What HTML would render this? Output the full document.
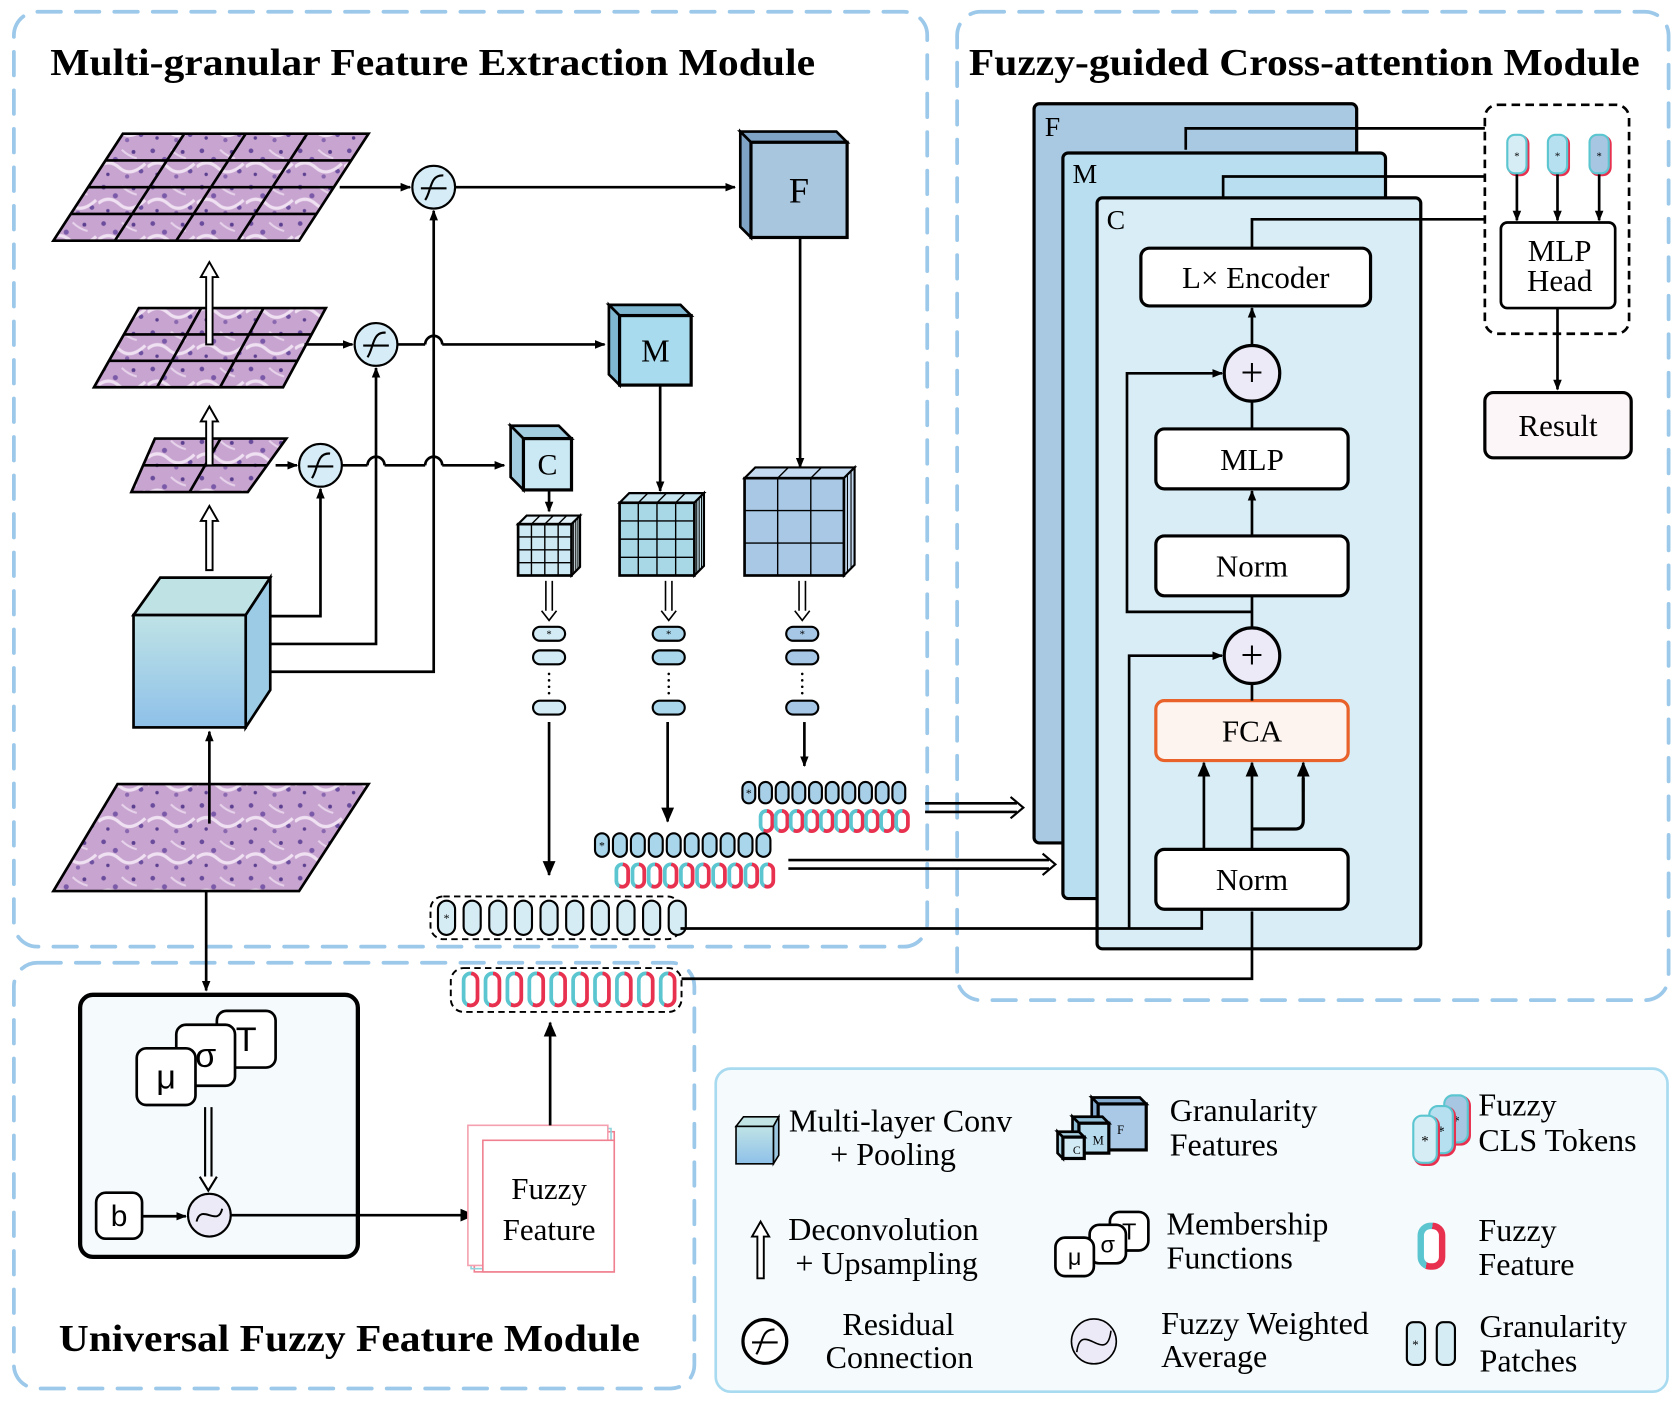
<!DOCTYPE html>
<html><head><meta charset="utf-8"><style>
html,body{margin:0;padding:0;background:#fff;}
svg{display:block;}
text{font-family:"Liberation Serif",serif;}
</style></head><body>
<svg id="s" width="1675" height="1412" viewBox="0 0 1568 1320" preserveAspectRatio="none" xmlns="http://www.w3.org/2000/svg">
<defs>
<marker id="ar" markerWidth="10" markerHeight="10" refX="9" refY="5" orient="auto" markerUnits="userSpaceOnUse"><path d="M0,1 L10,5 L0,9 z" fill="#000"/></marker>
<marker id="arb" markerWidth="14" markerHeight="14" refX="13" refY="7" orient="auto" markerUnits="userSpaceOnUse"><path d="M0,1 L14,7 L0,13 z" fill="#000"/></marker>
<linearGradient id="cg" x1="0" y1="0" x2="0" y2="1"><stop offset="0" stop-color="#bfe3e6"/><stop offset="1" stop-color="#8ec0e8"/></linearGradient>
<linearGradient id="fz" x1="0" y1="0" x2="1" y2="0.3"><stop offset="0" stop-color="#5cc6d0"/><stop offset="0.5" stop-color="#5cc6d0"/><stop offset="0.5" stop-color="#e8304f"/><stop offset="1" stop-color="#e8304f"/></linearGradient>
<pattern id="tis" width="46" height="34" patternUnits="userSpaceOnUse"><rect width="46" height="34" fill="#c8a4d0"/><circle cx="5" cy="5" r="2.2" fill="#6a4c9c"/><circle cx="16" cy="13" r="2.4" fill="#7a5aa8"/><circle cx="33" cy="6" r="1.8" fill="#5c4090"/><circle cx="40" cy="24" r="2.2" fill="#6d50a0"/><circle cx="9" cy="27" r="1.6" fill="#5c4090"/><circle cx="27" cy="29" r="2" fill="#8a68b0"/><path d="M0,20 Q10,12 20,21 T44,17" stroke="#efe0f2" stroke-width="3" fill="none"/><path d="M22,4 Q28,10 36,12" stroke="#e6d2ea" stroke-width="2" fill="none"/></pattern>
</defs>
<g fill="none" stroke="#9cc8ea" stroke-width="3.5" stroke-dasharray="22 14" stroke-linecap="round">
<rect x="13" y="11" width="855" height="874" rx="22"/>
<rect x="896" y="11" width="666" height="924" rx="22"/>
<rect x="13" y="900" width="637" height="398" rx="22"/>
</g>
<rect x="670" y="999" width="891" height="302" rx="14" fill="#f5fafd" stroke="#a8daf0" stroke-width="2.5"/>
<g font-weight="bold" font-size="36" fill="#000">
<text x="47" y="70" textLength="716" lengthAdjust="spacingAndGlyphs">Multi-granular Feature Extraction Module</text>
<text x="907" y="70" textLength="628" lengthAdjust="spacingAndGlyphs">Fuzzy-guided Cross-attention Module</text>
<text x="55" y="1263" textLength="544" lengthAdjust="spacingAndGlyphs">Universal Fuzzy Feature Module</text>
</g>
</svg>
<script>
const NS="http://www.w3.org/2000/svg",S=document.getElementById('s');
function el(t,a,txt){const e=document.createElementNS(NS,t);for(const k in a)e.setAttribute(k,a[k]);if(txt!=null)e.textContent=txt;S.appendChild(e);return e;}
function line(pts,arr,w){const o={points:pts,fill:'none',stroke:'#000','stroke-width':w||2.5};if(arr)o['marker-end']='url(#'+arr+')';el('polyline',o);}
function txt(x,y,s,fs,anc,extra){const o={x:x,y:y,'font-size':fs,'text-anchor':anc||'start',fill:'#000'};Object.assign(o,extra||{});return el('text',o,s);}
function tissue(p,n){el('polygon',{points:p.map(a=>a.join(',')).join(' '),fill:'url(#tis)',stroke:'#000','stroke-width':2.5});
 if(n>1){for(let i=1;i<n;i++){const t=i/n;
  let a=[p[0][0]+(p[1][0]-p[0][0])*t,p[0][1]],b=[p[3][0]+(p[2][0]-p[3][0])*t,p[3][1]];line(a+' '+b,null,2.5);
  let c=[p[0][0]+(p[3][0]-p[0][0])*t,p[0][1]+(p[3][1]-p[0][1])*t],d=[p[1][0]+(p[2][0]-p[1][0])*t,p[1][1]+(p[2][1]-p[1][1])*t];line(c+' '+d,null,2.5);}}}
tissue([[115,125],[345,125],[280,225],[50,225]],4);
tissue([[130,288],[305,288],[265,362],[88,362]],3);
tissue([[145,410],[268,410],[232,460],[123,460]],2);
tissue([[110,733],[345,733],[280,833],[50,833]],1);
function hup(x,y1,y2){el('path',{d:`M${x-3},${y1} L${x-3},${y2+14} L${x-8},${y2+14} L${x},${y2} L${x+8},${y2+14} L${x+3},${y2+14} L${x+3},${y1} Z`,fill:'#fff',stroke:'#000','stroke-width':1.8});}
hup(196,322,245);hup(196,435,380);hup(196,533,473);
line('193,833 193,926','ar');
line('196,770 196,684','ar');
line('318,175 384,175','ar');line('426,175 688,175','ar');
line('285,322 330,322','ar');line('372,322 398,322');el('path',{d:'M398,322 A8,8 0 0 1 414,322',fill:'none',stroke:'#000','stroke-width':2.5});line('414,322 566,322','ar');
line('258,435 278,435','ar');line('320,435 344,435');el('path',{d:'M344,435 A8,8 0 0 1 360,435',fill:'none',stroke:'#000','stroke-width':2.5});line('360,435 398,435');el('path',{d:'M398,435 A8,8 0 0 1 414,435',fill:'none',stroke:'#000','stroke-width':2.5});line('414,435 472,435','ar');
line('240,576 300,576 300,457','ar');line('240,602 352,602 352,344','ar');line('240,628 406,628 406,197','ar');
function res(cx,cy,fill){el('circle',{cx:cx,cy:cy,r:20,fill:fill||'#d6ecf6',stroke:'#000','stroke-width':2});el('path',{d:`M${cx-12},${cy+1} L${cx+12},${cy+1} M${cx-8},${cy+12} C${cx-2},${cy+4} ${cx-4},${cy-12} ${cx+9},${cy-11}`,fill:'none',stroke:'#000','stroke-width':2});}
res(406,175);res(352,322);res(300,435);
el('polygon',{points:'125,575 150,540 253,540 230,575',fill:'#bfe3e4',stroke:'#000','stroke-width':2.5});
el('polygon',{points:'230,575 253,540 253,645 230,680',fill:'#9ccbe6',stroke:'#000','stroke-width':2.5});
el('rect',{x:125,y:575,width:105,height:105,fill:'url(#cg)',stroke:'#000','stroke-width':2.5});
function cube(x,y,w,h,d,fill,dark,lab,fs){el('polygon',{points:`${x},${y} ${x-d},${y-d} ${x+w-d},${y-d} ${x+w},${y}`,fill:dark,stroke:'#000','stroke-width':2.5});
el('polygon',{points:`${x},${y} ${x-d},${y-d} ${x-d},${y+h-d} ${x},${y+h}`,fill:dark,stroke:'#000','stroke-width':2.5});
el('rect',{x:x,y:y,width:w,height:h,fill:fill,stroke:'#000','stroke-width':3});if(lab)txt(x+w/2,y+h/2+fs*0.35,lab,fs,'middle');}
cube(703,133,90,89,10,'#a9c6df','#7fa3c4','F',34);
cube(580,295,67,65,10,'#a8dbee','#7fb7d0','M',30);
cube(490,410,45,48,12,'#cbe9f4','#a2cde0','C',28);
function gcube(x,y,w,h,d,n,fill,top){el('polygon',{points:`${x},${y} ${x+d},${y-d} ${x+w+d},${y-d} ${x+w},${y}`,fill:top,stroke:'#000','stroke-width':2});
el('polygon',{points:`${x+w},${y} ${x+w+d},${y-d} ${x+w+d},${y+h-d} ${x+w},${y+h}`,fill:top,stroke:'#000','stroke-width':2});
el('rect',{x:x,y:y,width:w,height:h,fill:fill,stroke:'#000','stroke-width':2.5});
for(let i=1;i<n;i++){line(`${x+w*i/n},${y} ${x+w*i/n},${y+h}`,null,1.3);line(`${x},${y+h*i/n} ${x+w},${y+h*i/n}`,null,1.3);line(`${x+w*i/n},${y} ${x+w*i/n+d},${y-d}`,null,1.3);line(`${x+w+d*i/n},${y-d*i/n} ${x+w+d*i/n},${y+h-d*i/n}`,null,1);}}
gcube(697,447,93,91,10,3,'#a9c8e6','#c4daf0');
gcube(580,470,70,68,9,4,'#a8d8e6','#c8e6f0');
gcube(485,490,50,48,8,4,'#cde9f3','#e2f2f8');
line('749,222 749,437','ar');line('618,360 618,459','ar');line('514,458 514,478','ar');
function ddown(x,y1,y2){line(`${x-3},${y1} ${x-3},${y2-8}`,null,1.5);line(`${x+3},${y1} ${x+3},${y2-8}`,null,1.5);el('path',{d:`M${x-7},${y2-9} L${x},${y2} L${x+7},${y2-9}`,fill:'#fff',stroke:'#000','stroke-width':1.5});}
ddown(514,543,580);ddown(626,543,580);ddown(751,543,580);
function tokcol(x,fill){el('rect',{x:x-15,y:586,width:30,height:13,rx:6.5,fill:fill,stroke:'#000','stroke-width':2});txt(x,596,'*',10,'middle');
el('rect',{x:x-15,y:608,width:30,height:13,rx:6.5,fill:fill,stroke:'#000','stroke-width':2});
for(let k=0;k<4;k++)el('circle',{cx:x,cy:630+k*6,r:1.2,fill:'#000'});
el('rect',{x:x-15,y:655,width:30,height:13,rx:6.5,fill:fill,stroke:'#000','stroke-width':2});}
tokcol(514,'#d3ebf5');tokcol(626,'#a9d6ea');tokcol(751,'#a6c7e6');
line('514,675 514,818','arb');line('625,675 625,768','arb');line('753,675 753,716','ar');
function pills(x0,y,n,w,h,step,fill,star){for(let i=0;i<n;i++){const x=x0+i*step;el('rect',{x:x,y:y,width:w,height:h,rx:w/2,fill:fill,stroke:'#000','stroke-width':2});if(i==0&&star)txt(x+w/2,y+h/2+4,'*',11,'middle');}}
function fpills(x0,y,n,w,h,step){for(let i=0;i<n;i++){const x=x0+i*step;el('rect',{x:x,y:y,width:w,height:h,rx:w/2,fill:'#fff',stroke:'url(#fz)','stroke-width':3.5});}}
pills(695,731,10,12,20,15.6,'#a8cfe8',true);fpills(712,758,10,11,19,14.1);
pills(557,779,10,13,22,16.8,'#a9d6ea',true);fpills(577,808,10,11,21,15.1);
el('rect',{x:403,y:838,width:234,height:40,rx:12,fill:'none',stroke:'#000','stroke-width':1.8,'stroke-dasharray':'6 4'});
pills(410,842,10,16,32,24,'#d6ecf5',true);
el('rect',{x:422,y:905,width:216,height:41,rx:12,fill:'none',stroke:'#000','stroke-width':1.8,'stroke-dasharray':'6 4'});
fpills(434,910,10,13,30,20.5);
function dright(x1,x2,y){line(`${x1},${y-4} ${x2-6},${y-4}`,null,2.5);line(`${x1},${y+4} ${x2-6},${y+4}`,null,2.5);el('path',{d:`M${x2-12},${y-10} L${x2},${y} L${x2-12},${y+10}`,fill:'none',stroke:'#000','stroke-width':2});}
dright(866,958,755);dright(738,988,808);
el('rect',{x:968,y:97,width:302,height:691,rx:5,fill:'#a9c9e3',stroke:'#000','stroke-width':3});txt(978,127,'F',26);
el('rect',{x:995,y:143,width:302,height:697,rx:5,fill:'#b8def0',stroke:'#000','stroke-width':3});txt(1004,171,'M',26);
el('rect',{x:1027,y:185,width:303,height:702,rx:5,fill:'#d8edf5',stroke:'#000','stroke-width':3});txt(1036,214,'C',26);
line('637,868 1125,868 1125,850');line('638,915 1172,915 1172,852');
line('1110,140 1110,120 1390,120');line('1145,185 1145,165 1390,165');line('1172,232 1172,205 1390,205');
function box(x,y,w,h,s,fs,fill,stroke){el('rect',{x:x,y:y,width:w,height:h,rx:8,fill:fill||'#fff',stroke:stroke||'#000','stroke-width':3});txt(x+w/2,y+h/2+fs*0.35,s,fs,'middle');}
box(1068,232,215,54,'L×  Encoder',29);
box(1082,401,180,56,'MLP',29);box(1082,501,180,56,'Norm',29);
box(1082,655,180,56,'FCA',29,'#fdf4ef','#e8622a');box(1082,794,180,56,'Norm',29);
line('1127,794 1127,713','arb');line('1172,794 1172,713','arb');
el('path',{d:'M1172,775 L1212,775 Q1220,775 1220,767 L1220,727',fill:'none',stroke:'#000','stroke-width':3});line('1220,740 1220,713','arb');
line('1172,655 1172,640');line('1172,587 1172,557');line('1172,501 1172,459','ar');line('1172,401 1172,376');line('1172,323 1172,288','ar');
line('1057,868 1057,613 1144,613','ar');line('1172,572 1055,572 1055,349 1144,349','ar');
function plus(cx,cy){el('circle',{cx:cx,cy:cy,r:26,fill:'#eceaf6',stroke:'#000','stroke-width':3});txt(cx,cy+12,'+',38,'middle');}
plus(1172,349);plus(1172,613);
el('rect',{x:1390,y:98,width:135,height:214,rx:12,fill:'none',stroke:'#000','stroke-width':2.5,'stroke-dasharray':'8 5'});
[[1420,'#d6edf5'],[1458,'#b6dff0'],[1497,'#a6c6e2']].forEach(([x,f])=>{el('rect',{x:x-9+1.5,y:126+1.5,width:18,height:36,rx:7,fill:'none',stroke:'#e8304f','stroke-width':2.5});el('rect',{x:x-9,y:126,width:18,height:36,rx:7,fill:f,stroke:'#5cc6d0','stroke-width':2});txt(x,149,'*',10,'middle');line(`${x},163 ${x},206`,'ar');});
el('rect',{x:1405,y:208,width:107,height:80,rx:6,fill:'#fff',stroke:'#000','stroke-width':2.5});
txt(1460,244,'MLP',29,'middle');txt(1460,272,'Head',29,'middle');
line('1458,288 1458,364','ar');
box(1390,367,137,61,'Result',29,'#fdf6f8');
el('rect',{x:75,y:930,width:260,height:245,rx:12,fill:'#f5fafd',stroke:'#000','stroke-width':4});
function mbox(x,y,w,h,s,fs){el('rect',{x:x,y:y,width:w,height:h,rx:9,fill:'#fff',stroke:'#000','stroke-width':2.5});txt(x+w/2,y+h/2+fs*0.35,s,fs,'middle',{style:'font-family:"Liberation Sans",sans-serif'});}
mbox(203,945,55,53,'T',32);mbox(165,958,55,57,'σ',32);mbox(128,980,55,53,'μ',32);
line('192,1035 192,1100',null,2);line('198,1035 198,1100',null,2);el('path',{d:'M187,1100 L195,1113 L203,1100',fill:'#fff',stroke:'#000','stroke-width':2});
mbox(90,1115,43,43,'b',28);
line('133,1137 174,1137','ar');
el('circle',{cx:196,cy:1136,r:20,fill:'#eceaf6',stroke:'#000','stroke-width':2});el('path',{d:'M184,1142 C188,1124 204,1148 208,1130',fill:'none',stroke:'#000','stroke-width':1.8});
line('216,1136 444,1136','arb');
el('rect',{x:444,y:1058,width:131,height:131,fill:'none',stroke:'#f08090','stroke-width':1.5});
el('rect',{x:441,y:1055,width:131,height:131,fill:'none',stroke:'#90d4dc','stroke-width':1.5});
el('rect',{x:438,y:1052,width:131,height:131,fill:'#fff',stroke:'#f4a0b0','stroke-width':1.5});
el('rect',{x:452,y:1066,width:123,height:123,fill:'#fff',stroke:'#f08090','stroke-width':1.5});
txt(514,1121,'Fuzzy',29,'middle');txt(514,1159,'Feature',29,'middle');
line('515,1052 515,956','arb');
el('polygon',{points:'689,1053 696,1044 729,1044 724,1053',fill:'#c3e4e4',stroke:'#000','stroke-width':1.5});
el('polygon',{points:'724,1053 729,1044 729,1080 724,1088',fill:'#9cc7e0',stroke:'#000','stroke-width':1.5});
el('rect',{x:689,y:1053,width:35,height:35,fill:'url(#cg)',stroke:'#000','stroke-width':1.5});
txt(843,1058,'Multi-layer Conv',30,'middle');txt(836,1089,'+ Pooling',30,'middle');
cube(1028,1032,45,43,6,'#a9c9e6','#86acd0','',1);txt(1049,1060,'F',12,'middle');
cube(1010,1050,28,28,6,'#b6dcee','#8fc0d8','',1);txt(1028,1070,'M',12,'middle');
cube(995,1063,20,20,5,'#d3ebf5','#a8d0e0','',1);txt(1008,1079,'C',11,'middle');
txt(1095,1048,'Granularity',30);txt(1095,1080,'Features',30);
[[1352,1024,'#a6c6e2'],[1338,1034,'#b6dff0'],[1323,1043,'#d6edf5']].forEach(([x,y,f])=>{el('rect',{x:x+1.5,y:y+1.5,width:22,height:44,rx:8,fill:'none',stroke:'#e8304f','stroke-width':3});el('rect',{x:x,y:y,width:22,height:44,rx:8,fill:f,stroke:'#5cc6d0','stroke-width':2});txt(x+11,y+28,'*',14,'middle');});
txt(1384,1043,'Fuzzy',30);txt(1384,1076,'CLS Tokens',30);
hup(712,1195,1142);
txt(827,1159,'Deconvolution',30,'middle');txt(830,1191,'+ Upsampling',30,'middle');
mbox(1039,1133,36,36,'T',22);mbox(1020,1145,34,36,'σ',22);mbox(988,1157,36,36,'μ',22);
txt(1092,1154,'Membership',30);txt(1092,1186,'Functions',30);
el('rect',{x:1330,y:1146,width:20,height:38,rx:9,fill:'#fff',stroke:'url(#fz)','stroke-width':6});
txt(1384,1160,'Fuzzy',30);txt(1384,1192,'Feature',30);
res(716,1254,'#fff');el('circle',{cx:716,cy:1254,r:21,fill:'none',stroke:'#000','stroke-width':2});
txt(841,1248,'Residual',30,'middle');txt(842,1279,'Connection',30,'middle');
el('circle',{cx:1024,cy:1254,r:21,fill:'#eceaf6',stroke:'#000','stroke-width':1.5});el('path',{d:'M1008,1264 C1012,1232 1036,1278 1040,1244',fill:'none',stroke:'#000','stroke-width':1.5});
txt(1087,1247,'Fuzzy Weighted',30);txt(1087,1278,'Average',30);
el('rect',{x:1317,y:1236,width:17,height:40,rx:6,fill:'#d6ecf5',stroke:'#000','stroke-width':2});txt(1325,1261,'*',12,'middle');
el('rect',{x:1345,y:1236,width:17,height:40,rx:6,fill:'#d6ecf5',stroke:'#000','stroke-width':2});
txt(1385,1250,'Granularity',30);txt(1385,1282,'Patches',30);
</script>
</body></html>
